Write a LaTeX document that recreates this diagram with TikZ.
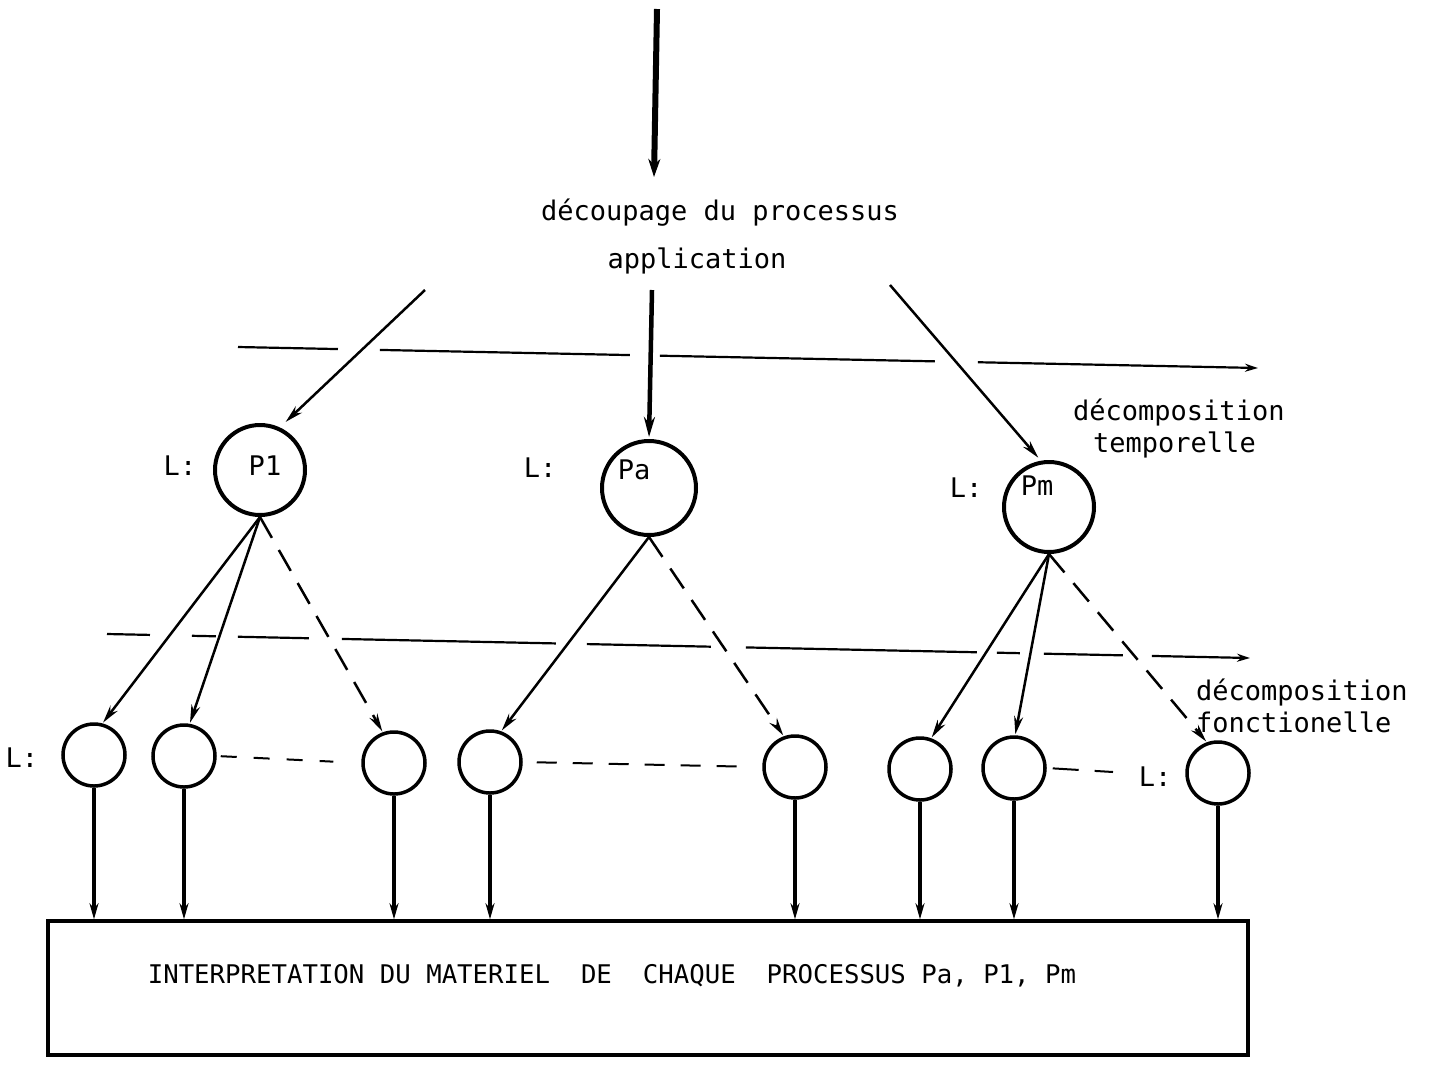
\documentclass[tikz,border=0pt]{standalone}
\usepackage{fontspec}
\setmonofont{DejaVu Sans Mono}
\usetikzlibrary{arrows.meta}
\begin{document}
\begin{tikzpicture}[x=1pt,y=-1pt,
  txt/.style={font=\ttfamily\fontsize{27}{30}\selectfont, inner sep=0pt},
  boxtxt/.style={font=\ttfamily\fontsize{25.7}{28}\selectfont, inner sep=0pt},
  proc/.style={draw, circle, line width=4pt, minimum size=90pt, inner sep=0pt},
  sub/.style={draw, circle, line width=3.5pt, minimum size=62pt, inner sep=0pt},
  link/.style={line width=2.5pt, -{Stealth[length=18pt,width=9pt]}},
  dlink/.style={link, dash pattern=on 24pt off 14pt},
  drop/.style={line width=3.5pt, -{Stealth[length=16pt,width=9pt]}},
  sepline/.style={line width=2.2pt, -{Stealth[length=13pt,width=8pt]}},
  peer/.style={line width=2pt},
]
\useasboundingbox (0,0) rectangle (1432,1072);

% incoming flow and its caption
\coordinate (src) at (657,9);
\coordinate (srcend) at (654,177);
\draw[line width=6pt, -{Stealth[length=18pt,width=12pt]}] (src) -- (srcend);
\node[txt] (cap1) at (720,213) {découpage du processus};
\node[txt] (cap2) at (697,261) {application};

% processes of the first level
\node[proc] (P1) at (260,470) {};
\node[proc, minimum size=94pt] (Pa) at (649,488) {};
\node[proc] (Pm) at (1049,507) {};
\node[txt] (P1t) at (265,466) {P1};
\node[txt] (Pat) at (634,470) {Pa};
\node[txt] (Pmt) at (1037,486) {Pm};
\node[txt] (L1) at (180,466) {L:};
\node[txt] (L2) at (540,468) {L:};
\node[txt] (L3) at (966,488) {L:};

\coordinate (fromL) at (425,290);
\coordinate (fromM) at (652,290);
\coordinate (fromR) at (890,285);
\draw[link, shorten >=8pt] (fromL) -- (P1.65);
\draw[link, line width=4.5pt, -{Stealth[length=20pt,width=11pt]}, shorten >=2pt] (fromM) -- (Pa.north);
\draw[link, shorten >=4pt] (fromR) -- (Pm.100);

% separation levels
\coordinate (s1a) at (238,347);
\coordinate (s1b) at (1258,368);
\draw[sepline, dash pattern=on 100pt off 42pt on 250pt off 30pt on 275pt off 43pt on 280pt off 0pt] (s1a) -- (s1b);
\node[txt, anchor=west] (lt1) at (1073,413) {décomposition};
\node[txt, anchor=west] (lt2) at (1093,445) {temporelle};

\coordinate (s2a) at (107,634);
\coordinate (s2b) at (1250,658);
\draw[sepline, dash pattern=on 43pt off 42pt on 24pt off 22pt on 71pt off 33pt on 214pt off 31pt on 124pt off 35pt on 231pt off 20pt on 23pt off 24pt on 79pt off 29pt on 98pt off 0pt] (s2a) -- (s2b);
\node[txt, anchor=west] (lf1) at (1196,692) {décomposition};
\node[txt, anchor=west] (lf2) at (1196,722) {fonctionelle};

% sub-processes
\node[sub] (c1) at (94,755) {};
\node[sub] (c2) at (184,756) {};
\node[sub] (c3) at (394,763) {};
\node[sub] (c4) at (490,762) {};
\node[sub] (c5) at (795,767) {};
\node[sub] (c6) at (920,769) {};
\node[sub] (c7) at (1014,768) {};
\node[sub] (c8) at (1218,773) {};
\node[txt] (L4) at (22,758) {L:};
\node[txt] (L5) at (1155,777) {L:};

\draw[link, shorten >=1pt] (P1.south) -- (c1.75);
\draw[link, shorten >=1pt] (P1.south) -- (c2.80);
\draw[dlink, shorten >=1pt] (P1.south) -- (c3.110);
\draw[link, shorten >=1pt] (Pa.south) -- (c4.70);
\draw[dlink, shorten >=1pt] (Pa.south) -- (c5.110);
\draw[link, shorten >=1pt] (Pm.south) -- (c6.70);
\draw[link, shorten >=1pt] (Pm.south) -- (c7.88);
\draw[dlink, shorten >=1pt] (Pm.south) -- (c8.110);

\draw[peer, dash pattern=on 16pt off 17pt, shorten <=4pt, shorten >=28pt] (c2.east) -- (c3.west);
\draw[peer, dash pattern=on 20pt off 16pt, shorten <=14pt, shorten >=19pt] (c4.east) -- (c5.west);
\coordinate (peerEnd) at (1113,772);
\draw[peer, dash pattern=on 26pt off 16pt, shorten <=6pt] (c7.east) -- (peerEnd);

% hardware interpretation
\node[draw, line width=3.5pt, minimum width=1200pt, minimum height=134pt, inner sep=0pt] (box) at (648,988) {};
\node[boxtxt] (boxt) at (612,976) {INTERPRETATION DU MATERIEL\ \ DE\ \ CHAQUE\ \ PROCESSUS Pa, P1, Pm};

\foreach \c in {c1,c2,c3,c4,c5,c6,c7,c8}
  \draw[drop] (\c.south) -- (\c.south |- box.north);
\end{tikzpicture}
\end{document}
